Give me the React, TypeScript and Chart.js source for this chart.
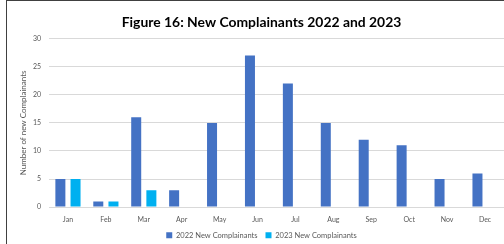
import React, { useEffect, useRef } from "react";
import { Chart, registerables } from "chart.js";
Chart.register(...registerables);

const months = ["Jan", "Feb", "Mar", "Apr", "May", "Jun", "Jul", "Aug", "Sep", "Oct", "Nov", "Dec"];
const complainants2022 = [5, 1, 16, 3, 15, 27, 22, 15, 12, 11, 5, 6];
const complainants2023 = [5, 1, 3, null, null, null, null, null, null, null, null, null];
const yTicks = [0, 5, 10, 15, 20, 25, 30];

export default function App() {
  const ref = useRef<HTMLCanvasElement>(null);
  useEffect(() => {
    if (!ref.current) return;
    const chart = new Chart(ref.current, {
      type: "bar",
      data: {
        labels: months,
        datasets: [
          {
            label: "2022 New Complainants",
            data: complainants2022,
            backgroundColor: "#4472C4",
            borderWidth: 0,
          },
          {
            label: "2023 New Complainants",
            data: complainants2023,
            backgroundColor: "#00B0F0",
            borderWidth: 0,
          },
        ],
      },
      options: {
        animation: false,
        responsive: false,
        maintainAspectRatio: false,
        layout: { padding: { left: 19, right: 0, top: 10, bottom: 0 } },
        datasets: { bar: { categoryPercentage: 0.8, barPercentage: 0.66 } },
        plugins: {
          title: {
            display: true,
            text: "Figure 16: New Complainants 2022 and 2023",
            color: "#000000",
            font: { family: "Lato", size: 13.9, weight: "bold" },
            padding: { top: 4, bottom: 8 },
          },
          legend: {
            position: "bottom",
            labels: {
              color: "#595959",
              font: { family: "Lato", size: 7.5 },
              boxWidth: 6,
              boxHeight: 6,
              padding: 8,
            },
          },
          tooltip: { enabled: false },
        },
        scales: {
          x: {
            grid: { display: false },
            border: { display: false },
            ticks: { color: "#595959", font: { family: "Lato", size: 7 }, padding: 0 },
          },
          y: {
            min: 0,
            max: 30,
            afterFit: (s: any) => { s.width = 30; },
            afterBuildTicks: (s: any) => { s.ticks = yTicks.map((v) => ({ value: v })); },
            grid: { color: "#D9D9D9", drawTicks: false },
            border: { display: false },
            ticks: { color: "#595959", font: { family: "Lato", size: 7 }, padding: 8 },
            title: {
              display: true,
              text: "Number of new Complainants",
              color: "#595959",
              font: { family: "Lato", size: 8 },
              padding: 0,
            },
          },
        },
      },
    });
    return () => chart.destroy();
  }, []);
  return (
    <div style={{ position: "fixed", left: 0, top: 0, width: 504, height: 244, overflow: "hidden", background: "#fff" }}>
      <canvas ref={ref} width={504} height={249} style={{ position: "absolute", left: 0, top: 0 }} />
      <div style={{ position: "absolute", left: 6, top: 0, width: 498, height: 244, borderLeft: "1px solid #404040", borderTop: "1px solid #404040", boxSizing: "border-box", pointerEvents: "none" }} />
    </div>
  );
}
